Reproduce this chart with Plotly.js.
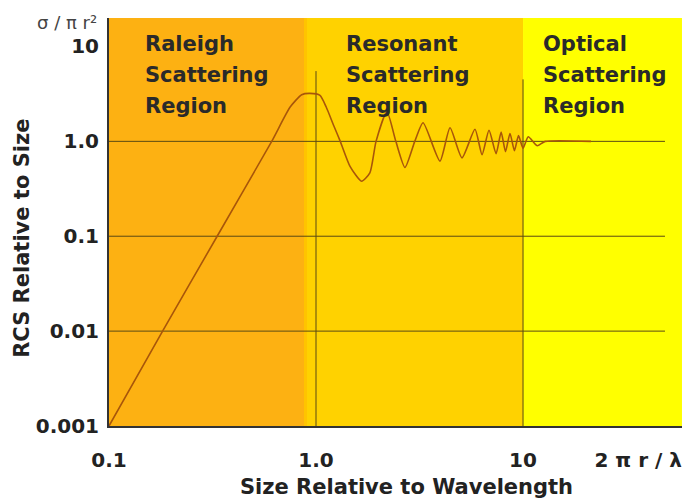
<!DOCTYPE html>
<html>
<head>
<meta charset="utf-8">
<script src="https://cdn.plot.ly/plotly-3.0.1.min.js"></script>
<style>html,body{margin:0;padding:0;background:#fff;}</style>
</head>
<body>
<div id="chart" style="width:686px;height:499px;"></div>
<script>
// Curve: RCS relative to size (sigma / pi r^2) vs size relative to wavelength (2 pi r / lambda)
const sizeRatio = [0.1, 0.1815, 0.333, 0.611, 0.75, 0.853, 0.935, 1.045, 1.12, 1.22, 1.31, 1.46, 1.66, 1.82, 1.95,
  2.2, 2.43, 2.69, 3.0, 3.29, 3.97, 4.44, 5.07, 5.86, 6.34, 6.85, 7.41, 7.84, 8.23, 8.65, 9.09, 9.51,
  10.0, 10.6, 11.7, 12.8, 21.3];
const rcsRatio = [0.001, 0.01, 0.1, 1.0, 2.3, 3.1, 3.2, 3.05, 2.3, 1.45, 1.0, 0.545, 0.38, 0.465, 1.0,
  2.05, 1.0, 0.53, 1.0, 1.57, 0.62, 1.39, 0.67, 1.34, 0.724, 1.31, 0.742, 1.25, 0.779, 1.21, 0.798, 1.15,
  0.848, 1.12, 0.90, 1.0, 1.0];

// Region boundaries (x) and names
const regionEdges = [0.1, 0.89, 10, 58.6];
const regionNames = [["Raleigh", "Scattering", "Region"], ["Resonant", "Scattering", "Region"], ["Optical", "Scattering", "Region"]];
const regionColors = ["#FDB112", "#FFD200", "#FFFF00"];

// Axis ticks
const xTickVals = [0.1, 1, 10, 36];
const xTickText = ["0.1", "1.0", "10", "2 π r / λ"];
const yTickVals = [0.001, 0.01, 0.1, 1, 10];
const yTickText = ["0.001", "0.01", "0.1", "1.0", "10"];

// Grid lines
const hGridVals = [0.01, 0.1, 1];
const hGridEnd = 48.5;
const vGridVals = [1, 10];
const vGridTops = [5.5, 4.5];

const shapes = [];
for (let i = 0; i < regionColors.length; i++) {
  shapes.push({type: 'rect', xref: 'x', yref: 'paper', x0: regionEdges[i], x1: regionEdges[i + 1], y0: 0, y1: 1,
    fillcolor: regionColors[i], line: {width: 0}, layer: 'below'});
}
shapes.push({type: 'rect', xref: 'x', yref: 'paper', x0: 0.875, x1: 0.905, y0: 0, y1: 1,
  fillcolor: '#FFC400', line: {width: 0}, layer: 'below'});
hGridVals.forEach(v => shapes.push({type: 'line', xref: 'x', yref: 'y', x0: 0.1, x1: hGridEnd, y0: v, y1: v,
  line: {color: '#5a4a12', width: 1}, layer: 'below'}));
vGridVals.forEach((v, i) => shapes.push({type: 'line', xref: 'x', yref: 'y', x0: v, x1: v, y0: 0.001, y1: vGridTops[i],
  line: {color: '#5a4a12', width: 1}, layer: 'below'}));

const font = {family: 'DejaVu Sans', size: 20, color: '#222', weight: 'bold'};
const annotations = [];
const regionX = [0.0593, 0.410, 0.754];
const lineY = [0.936, 0.860, 0.784];
regionNames.forEach((lines, i) => lines.forEach((t, j) => annotations.push({
  text: t, xref: 'paper', yref: 'paper', x: regionX[i], y: lineY[j], xanchor: 'left', yanchor: 'middle',
  showarrow: false, font: {family: 'DejaVu Sans', size: 21, color: '#2a2a2a', weight: 'bold'}
})));
annotations.push({text: 'RCS Relative to Size', textangle: -90, xref: 'paper', yref: 'paper', x: -0.152, y: 0.461,
  xanchor: 'center', yanchor: 'middle', showarrow: false, font: {family: 'DejaVu Sans', size: 21, color: '#222', weight: 'bold'}});
annotations.push({text: 'Size Relative to Wavelength', xref: 'paper', yref: 'paper', x: 0.52, y: -0.1495,
  xanchor: 'center', yanchor: 'middle', showarrow: false, font: {family: 'DejaVu Sans', size: 21, color: '#222', weight: 'bold'}});
annotations.push({text: 'σ / π r²', xref: 'paper', yref: 'paper', x: -0.018, y: 0.99,
  xanchor: 'right', yanchor: 'middle', showarrow: false, font: {family: 'DejaVu Sans', size: 18, color: '#444'}});

const trace = {x: sizeRatio, y: rcsRatio, type: 'scatter', mode: 'lines',
  line: {color: '#a8560a', width: 1.6, shape: 'spline', smoothing: 0.6}, hoverinfo: 'skip'};

const layout = {
  width: 686, height: 499,
  margin: {l: 109, r: 4, t: 18, b: 73},
  paper_bgcolor: '#ffffff', plot_bgcolor: '#ffffff',
  showlegend: false,
  xaxis: {type: 'log', range: [-1, 1.768], showgrid: false, zeroline: false,
    tickmode: 'array', tickvals: xTickVals, ticktext: xTickText, ticks: '', ticklabelstandoff: 15,
    showline: true, linecolor: '#333', linewidth: 2, tickfont: font},
  yaxis: {type: 'log', range: [-3, 1.3], showgrid: false, zeroline: false,
    tickmode: 'array', tickvals: yTickVals, ticktext: yTickText, ticks: '', ticklabelstandoff: 4,
    showline: true, linecolor: '#333', linewidth: 2, tickfont: font},
  shapes: shapes,
  annotations: annotations
};

Plotly.newPlot('chart', [trace], layout, {staticPlot: true, displayModeBar: false});
</script>
</body>
</html>
